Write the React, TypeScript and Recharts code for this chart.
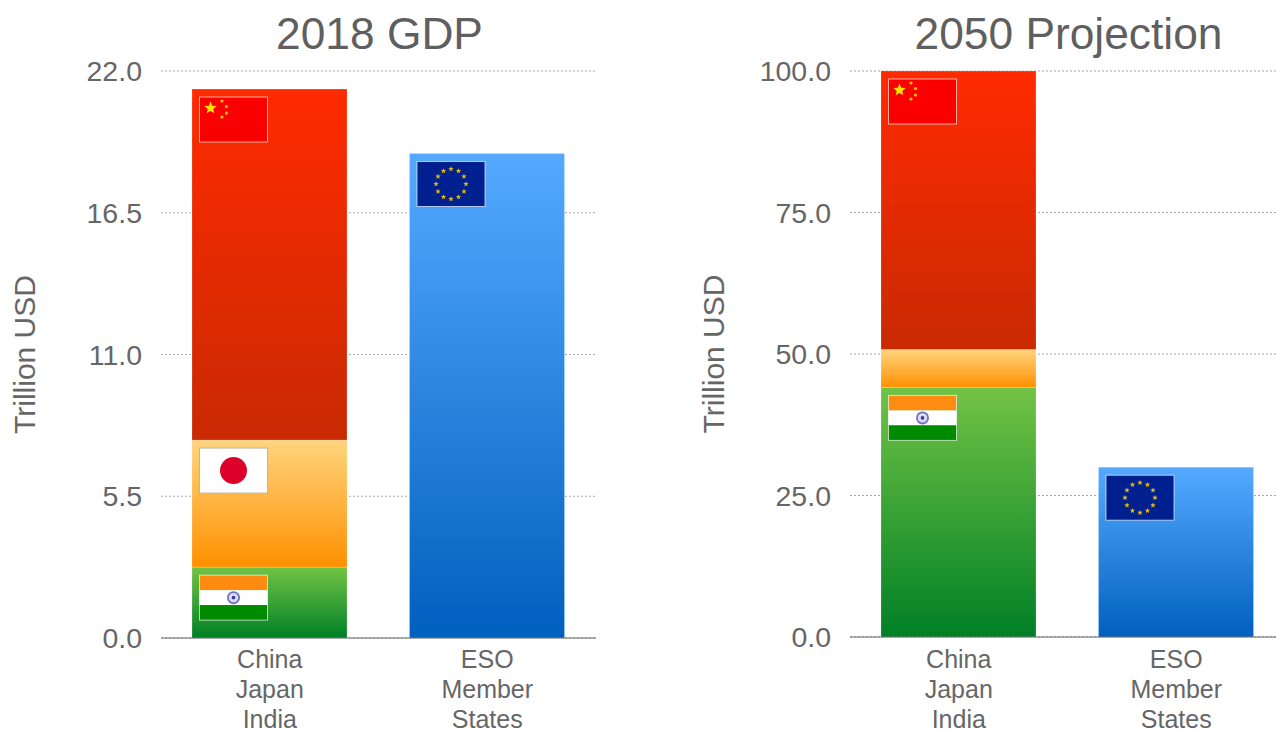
import { BarChart, Bar, XAxis, YAxis, CartesianGrid } from "recharts";

const FONT = "'Liberation Sans', Arial, sans-serif";
const TEXT_COLOR = "#666666";

const categories = ["China\nJapan\nIndia", "ESO\nMember\nStates"];

// 2018 GDP, trillion USD
const gdpIndia = [2.75, null];
const gdpJapan = [4.93, null];
const gdpChina = [13.62, null];
const gdpEso = [null, 18.8];
const gdpTicks = [0, 5.5, 11, 16.5, 22];

// 2050 projection, trillion USD
const projIndia = [44.1, null];
const projJapan = [6.7, null];
const projChina = [49.2, null];
const projEso = [null, 30];
const projTicks = [0, 25, 50, 75, 100];

type FlagName = "china" | "japan" | "india" | "eu";

const FLAG_W = 68;
const FLAG_H = 45;
const FLAG_INSET_X = 7.5;
const FLAG_INSET_Y = 8;

function starPoints(cx: number, cy: number, r: number) {
  const pts: string[] = [];
  for (let i = 0; i < 10; i++) {
    const rad = i % 2 === 0 ? r : r * 0.45;
    const a = -Math.PI / 2 + (i * Math.PI) / 5;
    pts.push(`${cx + rad * Math.cos(a)},${cy + rad * Math.sin(a)}`);
  }
  return pts.join(" ");
}

function Flag({ name, x, y }: { name: FlagName; x: number; y: number }) {
  const edge = name === "japan" ? "#bdb5a8" : "rgba(255,255,255,0.65)";
  return (
    <g transform={`translate(${x},${y})`}>
      {name === "china" && (
        <g>
          <rect width={FLAG_W} height={FLAG_H} fill="#fb0000" />
          <polygon points={starPoints(11, 11, 6.5)} fill="#ffe000" />
          <circle cx={22.5} cy={4} r={1.6} fill="#ffc000" />
          <circle cx={27} cy={9.5} r={1.6} fill="#ffc000" />
          <circle cx={27} cy={16} r={1.6} fill="#ffc000" />
          <circle cx={22.5} cy={20} r={1.6} fill="#ffc000" />
        </g>
      )}
      {name === "japan" && (
        <g>
          <rect width={FLAG_W} height={FLAG_H} fill="#ffffff" />
          <circle cx={34} cy={22.5} r={13.5} fill="#dc002b" />
        </g>
      )}
      {name === "india" && (
        <g>
          <rect width={FLAG_W} height={15} fill="#ff8c10" />
          <rect y={15} width={FLAG_W} height={15} fill="#ffffff" />
          <rect y={30} width={FLAG_W} height={15} fill="#008a00" />
          <circle cx={34} cy={22.5} r={5.6} fill="#dcdcf4" stroke="#7070c4" strokeWidth={1.8} />
          <circle cx={34} cy={22.5} r={1.8} fill="#3a3aa0" />
        </g>
      )}
      {name === "eu" && (
        <g>
          <rect width={FLAG_W} height={FLAG_H} fill="#00208f" />
          {Array.from({ length: 12 }, (_, i) => {
            const a = (i * Math.PI) / 6;
            return (
              <polygon
                key={i}
                points={starPoints(34 + 15 * Math.sin(a), 22.5 - 15 * Math.cos(a), 2.8)}
                fill="#e0b814"
              />
            );
          })}
        </g>
      )}
      <rect x={0} y={0} width={FLAG_W} height={FLAG_H} fill="none" stroke={edge} strokeWidth={1} />
    </g>
  );
}

// bar segment with its flag in the upper left corner, if the segment has room for one
function Segment(props: any) {
  const { x, y, width, height, fill, flag } = props;
  if (!height || height <= 0) return null;
  return (
    <g>
      <rect x={x} y={y} width={width} height={height} fill={fill} stroke="#ffffff" strokeOpacity={0.2} strokeWidth={1} />
      {height > FLAG_H + FLAG_INSET_Y && <Flag name={flag} x={x + FLAG_INSET_X} y={y + FLAG_INSET_Y} />}
    </g>
  );
}

function CategoryTick({ x, y, payload, offset }: any) {
  const lines = String(payload.value).split("\n");
  return (
    <text x={x} textAnchor="middle" fontFamily={FONT} fontSize={25} fill={TEXT_COLOR}>
      {lines.map((line, i) => (
        <tspan key={line} x={x} y={y + offset + i * 30}>
          {line}
        </tspan>
      ))}
    </text>
  );
}

function AxisTitle({ viewBox }: any) {
  const cy = viewBox.y + viewBox.height / 2;
  return (
    <text
      x={35}
      y={cy}
      textAnchor="middle"
      transform={`rotate(-90 35 ${cy})`}
      fontFamily={FONT}
      fontSize={30}
      fill={TEXT_COLOR}
    >
      Trillion USD
    </text>
  );
}

function Gradients() {
  return (
    <defs>
      <linearGradient id="gradChina" x1="0" y1="0" x2="0" y2="1">
        <stop offset="0%" stopColor="#ff2a00" />
        <stop offset="100%" stopColor="#c92a04" />
      </linearGradient>
      <linearGradient id="gradJapan" x1="0" y1="0" x2="0" y2="1">
        <stop offset="0%" stopColor="#ffd57e" />
        <stop offset="100%" stopColor="#ff9000" />
      </linearGradient>
      <linearGradient id="gradIndia" x1="0" y1="0" x2="0" y2="1">
        <stop offset="0%" stopColor="#72c345" />
        <stop offset="100%" stopColor="#008026" />
      </linearGradient>
      <linearGradient id="gradEso" x1="0" y1="0" x2="0" y2="1">
        <stop offset="0%" stopColor="#55aaff" />
        <stop offset="100%" stopColor="#0060bf" />
      </linearGradient>
    </defs>
  );
}

interface PanelProps {
  title: string;
  left: number;
  bottom: number;
  india: (number | null)[];
  japan: (number | null)[];
  china: (number | null)[];
  eso: (number | null)[];
  ticks: number[];
}

function Panel({ title, left, bottom, india, japan, china, eso, ticks }: PanelProps) {
  const data = categories.map((name, i) => ({
    name,
    india: india[i],
    japan: japan[i],
    china: china[i],
    eso: eso[i],
  }));
  return (
    <div style={{ position: "absolute", left, top: 0, width: 640, height: 731 }}>
      <div
        style={{
          position: "absolute",
          left: 162,
          width: 435,
          top: 8,
          textAlign: "center",
          fontFamily: FONT,
          fontSize: 44.3,
          lineHeight: "52px",
          color: "#5f5f5f",
        }}
      >
        {title}
      </div>
      <BarChart
        width={640}
        height={731}
        data={data}
        margin={{ top: 71, right: 44, bottom: 0, left: 0 }}
        barSize={155}
      >
        <Gradients />
        <CartesianGrid vertical={false} stroke="#aaaaaa" strokeDasharray="2 2" />
        <XAxis
          dataKey="name"
          interval={0}
          height={bottom}
          tick={<CategoryTick offset={bottom - 71.5} />}
          tickLine={false}
          axisLine={{ stroke: "#666666" }}
        />
        <YAxis
          width={161}
          domain={[ticks[0], ticks[ticks.length - 1]]}
          ticks={ticks}
          interval={0}
          tickFormatter={(v: number) => v.toFixed(1)}
          tick={{ fontFamily: FONT, fontSize: 28.5, fill: TEXT_COLOR }}
          tickLine={false}
          axisLine={false}
          tickSize={0}
          tickMargin={19}
          label={<AxisTitle />}
        />
        <Bar dataKey="india" stackId="a" fill="url(#gradIndia)" isAnimationActive={false} shape={(p: any) => <Segment {...p} flag="india" />} />
        <Bar dataKey="japan" stackId="a" fill="url(#gradJapan)" isAnimationActive={false} shape={(p: any) => <Segment {...p} flag="japan" />} />
        <Bar dataKey="china" stackId="a" fill="url(#gradChina)" isAnimationActive={false} shape={(p: any) => <Segment {...p} flag="china" />} />
        <Bar dataKey="eso" stackId="a" fill="url(#gradEso)" isAnimationActive={false} shape={(p: any) => <Segment {...p} flag="eu" />} />
      </BarChart>
    </div>
  );
}

export default function App() {
  return (
    <div style={{ position: "fixed", inset: 0, width: 1276, height: 731, overflow: "hidden", background: "#fff" }}>
      <Panel title="2018 GDP" left={0} bottom={93} india={gdpIndia} japan={gdpJapan} china={gdpChina} eso={gdpEso} ticks={gdpTicks} />
      <Panel title="2050 Projection" left={689} bottom={94} india={projIndia} japan={projJapan} china={projChina} eso={projEso} ticks={projTicks} />
    </div>
  );
}
